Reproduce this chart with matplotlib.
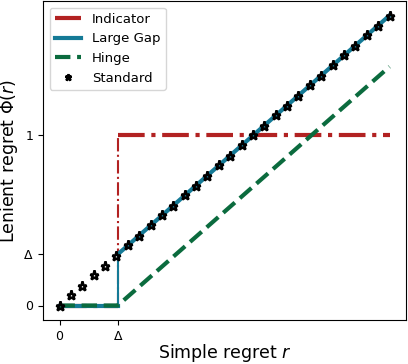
import matplotlib
matplotlib.use("Agg")
import matplotlib.pyplot as plt

# --- values ---
delta = 0.3
ind_r = [0.0, 0.3, 0.3, 1.7]
ind_phi = [0.0, 0.0, 1.0, 1.0]
gap_r = [0.0, 0.3, 0.3, 1.7]
gap_phi = [0.0, 0.0, 0.3, 1.7]
hinge_r = [0.0, 0.3, 1.7]
hinge_phi = [0.0, 0.0, 1.4]
std_r = [0.0, 0.059, 0.117, 0.176, 0.234, 0.293, 0.352, 0.41, 0.469, 0.528,
         0.586, 0.645, 0.703, 0.762, 0.821, 0.879, 0.938, 0.997, 1.055, 1.114,
         1.172, 1.231, 1.29, 1.348, 1.407, 1.466, 1.524, 1.583, 1.641, 1.7]
std_phi = list(std_r)

xtick_vals = [0.0, delta]
xtick_labels = ['0', r'$\Delta$']
ytick_vals = [0.0, delta, 1.0]
ytick_labels = ['0', r'$\Delta$', '1']

c_ind = '#b22222'
c_gap = '#157a96'
c_hinge = '#0b6b3e'

fig, ax = plt.subplots(figsize=(4.08, 3.64), dpi=100)

# Indicator: thick flat pieces, thin vertical jump
ax.plot(ind_r[:2], ind_phi[:2], color=c_ind, lw=3, ls='-.')
ax.plot(ind_r[1:3], ind_phi[1:3], color=c_ind, lw=1.5, ls='-.')
ax.plot(ind_r[2:], ind_phi[2:], color=c_ind, lw=3, ls='-.', label='Indicator')

# Large gap
ax.plot(gap_r[:2], gap_phi[:2], color=c_gap, lw=3)
ax.plot(gap_r[1:3], gap_phi[1:3], color=c_gap, lw=1.5)
ax.plot(gap_r[2:], gap_phi[2:], color=c_gap, lw=3, label='Large Gap')

# Hinge
ax.plot(hinge_r, hinge_phi, color=c_hinge, lw=3, ls='--', label='Hinge')

# Standard
ax.plot(std_r, std_phi, ls='none', marker='*', ms=6.5, mfc='none', mec='k',
        mew=1.8, label='Standard')

ax.set_xticks(xtick_vals)
ax.set_xticklabels(xtick_labels)
ax.set_yticks(ytick_vals)
ax.set_yticklabels(ytick_labels)
ax.tick_params(labelsize=9)
ax.set_xlabel('Simple regret $r$', fontsize=12.5)
ax.set_ylabel(r'Lenient regret $\Phi(r)$', fontsize=12.5)
ax.xaxis.set_label_coords(0.5, -0.07)
ax.yaxis.set_label_coords(-0.062, 0.5)
ax.legend(loc='upper left', fontsize=9.5, markerscale=0.7)

fig.subplots_adjust(left=43/408, right=406/408, top=1-1/364, bottom=1-320/364)
fig.savefig('out.png', dpi=100)
